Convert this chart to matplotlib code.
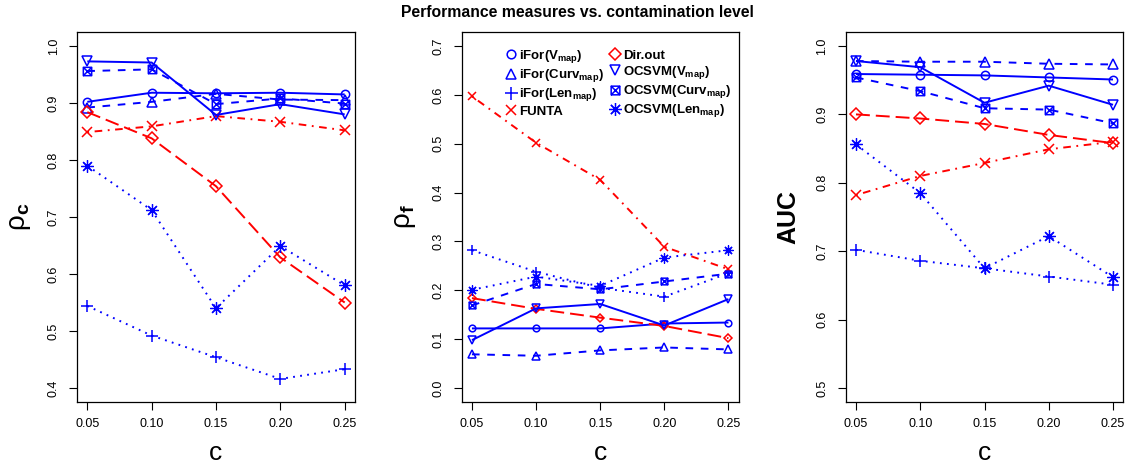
import matplotlib
matplotlib.use('Agg')
import matplotlib.pyplot as plt
from matplotlib.path import Path

plt.rcParams['font.family'] = ['Liberation Sans', 'DejaVu Sans']
plt.rcParams['mathtext.fontset'] = 'custom'
plt.rcParams['mathtext.rm'] = 'Liberation Sans'
plt.rcParams['mathtext.bf'] = 'Liberation Sans:bold'
plt.rcParams['mathtext.it'] = 'Liberation Sans:italic'
plt.rcParams['lines.scale_dashes'] = False

# contamination levels
contamination = [0.05, 0.10, 0.15, 0.20, 0.25]

methods = [r'iFor(V$_{\mathbf{map}}$)', r'iFor(Curv$_{\mathbf{map}}$)', r'iFor(Len$_{\mathbf{map}}$)',
           'FUNTA', 'Dir.out', r'OCSVM(V$_{\mathbf{map}}$)', r'OCSVM(Curv$_{\mathbf{map}}$)',
           r'OCSVM(Len$_{\mathbf{map}}$)']

# one row per method, same order as `methods`
rho_c = [
    [0.902, 0.918, 0.917, 0.918, 0.915],
    [0.892, 0.902, 0.916, 0.906, 0.905],
    [0.544, 0.492, 0.454, 0.416, 0.433],
    [0.849, 0.859, 0.877, 0.867, 0.852],
    [0.884, 0.838, 0.754, 0.629, 0.550],
    [0.973, 0.971, 0.879, 0.898, 0.880],
    [0.956, 0.959, 0.898, 0.908, 0.899],
    [0.790, 0.712, 0.540, 0.649, 0.580],
]

rho_f = [
    [0.122, 0.122, 0.122, 0.132, 0.134],
    [0.069, 0.066, 0.077, 0.083, 0.079],
    [0.282, 0.238, 0.205, 0.187, 0.235],
    [0.597, 0.502, 0.426, 0.289, 0.243],
    [0.184, 0.162, 0.144, 0.127, 0.102],
    [0.098, 0.163, 0.172, 0.128, 0.182],
    [0.169, 0.213, 0.202, 0.218, 0.234],
    [0.201, 0.228, 0.209, 0.267, 0.282],
]

auc = [
    [0.959, 0.958, 0.957, 0.954, 0.951],
    [0.978, 0.977, 0.977, 0.974, 0.973],
    [0.702, 0.686, 0.675, 0.663, 0.651],
    [0.782, 0.810, 0.829, 0.849, 0.860],
    [0.900, 0.894, 0.886, 0.870, 0.858],
    [0.978, 0.969, 0.917, 0.942, 0.914],
    [0.954, 0.934, 0.909, 0.907, 0.887],
    [0.856, 0.785, 0.675, 0.722, 0.662],
]

# square with a cross (R pch 7)
box_x = Path([(-1, -1), (1, -1), (1, 1), (-1, 1), (-1, -1), (1, 1), (-1, 1), (1, -1)],
             [Path.MOVETO, Path.LINETO, Path.LINETO, Path.LINETO, Path.LINETO, Path.LINETO,
              Path.MOVETO, Path.LINETO])

BLUE = '#0000FF'
RED = '#FF0000'
SOLID = (0, ())
DASH = (0, (5.5, 5.5))
DOT = (0, (1.3, 3.8))
DOTDASH = (0, (1.3, 4, 5.5, 4))
LONGDASH = (0, (10, 4.3))

# colour, linestyle, marker, marker size factor, edge width
styles = [
    (BLUE, SOLID, 'o', 1.0, 1.1),
    (BLUE, DASH, '^', 1.25, 1.1),
    (BLUE, DOT, '+', 1.5, 1.1),
    (RED, DOTDASH, 'x', 1.1, 1.1),
    (RED, LONGDASH, 'D', 0.95, 1.1),
    (BLUE, SOLID, 'v', 1.25, 1.1),
    (BLUE, DASH, box_x, 1.0, 1.1),
    (BLUE, DOT, (8, 2, 0), 1.5, 0.9),
]

fig = plt.figure(figsize=(11.46, 4.66), dpi=100)
W, H = 1146, 466
panels = [
    (77, 278, rho_c, (0.4, 1.0), r'ρ$_{\mathbf{c}}$', 6.0),
    (461.7, 277, rho_f, (0.0, 0.7), r'ρ$_{\mathbf{f}}$', 4.8),
    (845.7, 277.6, auc, (0.5, 1.0), 'AUC', 6.0),
]

axes = []
for left, width, values, (lo, hi), ylab, msize in panels:
    ax = fig.add_axes([left / W, (H - 401.7) / H, width / W, 369.4 / H])
    for row, (col, ls, mk, fac, mew), name in zip(values, styles, methods):
        ax.plot(contamination, row, color=col, linestyle=ls, linewidth=1.4,
                marker=mk, markersize=msize * fac, markerfacecolor='none',
                markeredgecolor=col, markeredgewidth=mew, label=name)
    ext = (hi - lo) * 0.04
    ax.set_ylim(lo - ext, hi + ext)
    ax.set_xlim(0.05 - 0.008, 0.25 + 0.008)
    ax.set_xticks(contamination)
    ax.set_xticklabels(['%.2f' % c for c in contamination])
    ax.set_yticks([round(lo + 0.1 * i, 1) for i in range(int(round((hi - lo) / 0.1)) + 1)])
    ax.set_yticklabels(['%.1f' % t for t in ax.get_yticks()], rotation=90, va='center')
    ax.tick_params(axis='both', labelsize=9, length=5.5, width=0.8, direction='out')
    ax.tick_params(axis='y', pad=7)
    ax.tick_params(axis='x', pad=6)
    for s in ax.spines.values():
        s.set_linewidth(0.9)
    ax.set_xlabel('c', fontsize=19)
    ax.xaxis.set_label_coords(0.5, -0.139)
    ax.xaxis.label.set_va('center')
    if ylab == 'AUC':
        ax.set_ylabel(ylab, fontsize=18, fontweight='bold')
    else:
        ax.set_ylabel(ylab, fontsize=20)
    ax.yaxis.set_label_coords(-0.206, 0.5)
    ax.yaxis.label.set_va('center')
    axes.append(ax)

leg = axes[1].legend(loc='upper left', bbox_to_anchor=(0.16, 0.957), ncol=2, frameon=False,
                     prop={'size': 9.5, 'weight': 'bold'}, markerscale=1.3, handlelength=0.8,
                     handletextpad=0.2, labelspacing=0.16, columnspacing=0.45, borderpad=0,
                     borderaxespad=0)
for h in leg.legend_handles:
    h.set_linestyle('None')

fig.text(0.5035, 0.973, 'Performance measures vs. contamination level', ha='center', va='center',
         fontsize=11.3, fontweight='bold')

fig.savefig('out.png', dpi=100)
